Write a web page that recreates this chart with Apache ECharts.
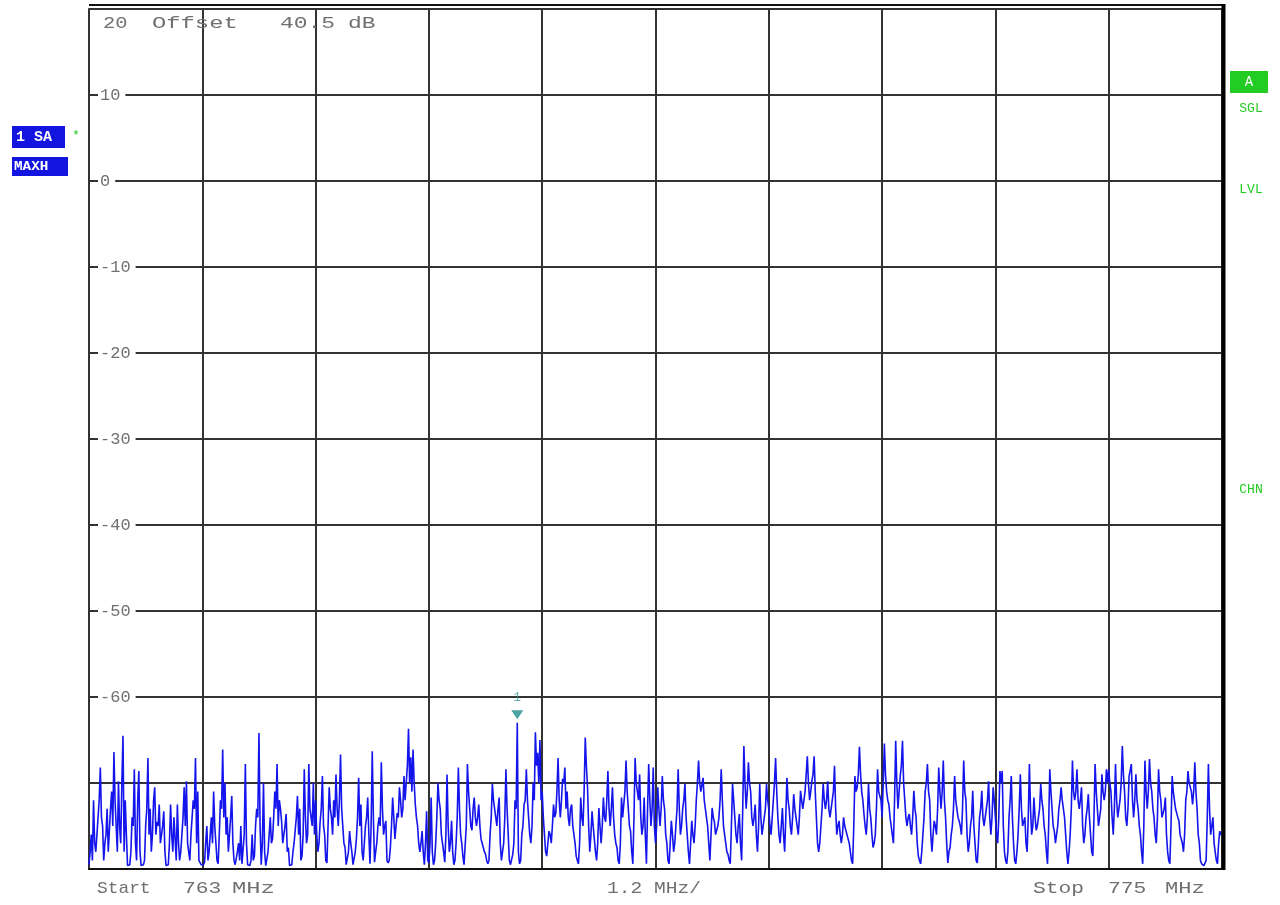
<!DOCTYPE html>
<html>
<head>
<meta charset="utf-8">
<script src="https://cdn.jsdelivr.net/npm/echarts@6/dist/echarts.min.js"></script>
<style>
html,body{margin:0;padding:0;background:#fff;}
#chart{width:1280px;height:905px;}
</style>
</head>
<body>
<div id="chart"></div>
<script>
// Sweep: 763 MHz to 775 MHz, 1001 points (sweep samples + in-between samples)
const startMHz = 763;
const stopMHz = 775;
const yLabelsShown = [10, 0, -10, -20, -30, -40, -50, -60];

// Max-hold trace levels (dB) at the main sweep samples
const levels = [
// div 1
-79.5,-76,-72,-78,-74,-68.2,-75,-77,-73,-75.5,-71,-66.4,-75,-69.8,-77,-64.5,-72,-79.6,-79.5,-74,
-68.4,-79,-68.6,-79.6,-79.5,-75,-67.1,-73,-76,-70.5,-74.5,-72.5,-77,-73.3,-79.6,-79.5,-72.5,-78,-74,-72.5,
-79,-76,-70.5,-69.8,-78,-76,-72,-67.1,-71,-79,
// div 2
-79.6,-79.2,-75,-78,-74,-71,-77,-79.4,-72,-66.1,-70,-74,-76,-71.5,-79,-79.5,-77,-75,-79.3,-67.8,
-79.5,-79.6,-76,-78.5,-73,-64.2,-79.5,-70,-79.6,-78,-74,-76.5,-71,-67.8,-72,-74.5,-76,-73.6,-77.5,-79.6,
-78,-75.5,-71.5,-73,-78.5,-68.4,-77,-67.8,-74,-70,
// div 3
-72,-78,-74.5,-69.2,-76,-79.3,-70.5,-74,-72,-69,-75,-66.7,-75,-77.5,-79.4,-75.6,-78,-79.5,-76.5,-69.4,
-72.5,-79,-75,-71.7,-79.4,-66.3,-79.2,-77,-74,-67.6,-76,-74.4,-79.3,-77.5,-71.7,-76.5,-73.5,-70.5,-74,-69.2,
-70,-63.7,-67,-66.1,-72.5,-75,-78,-75.6,-79.5,-73.3,
// div 4
-79.3,-71.7,-79.5,-77,-70,-73,-76,-79.2,-69,-78,-74.4,-79.5,-77,-68.2,-76,-78.5,-79.5,-67.8,-73,-75.5,
-71.7,-75,-72.5,-76.5,-77,-78.3,-79.4,-76,-70.1,-72,-75,-71.7,-79,-77,-68.4,-76,-79.5,-78.3,-72,-63,
-79.4,-76,-72.5,-68.4,-74,-77,-70,-64.1,-66.5,-65,
// div 5
-71,-76,-78.5,-75.6,-77,-72.5,-73.5,-67.1,-74,-69.5,-68.2,-71,-75,-72.5,-76,-78.5,-79.4,-71.7,-75,-64.7,
-70.5,-78,-73.3,-76.5,-79,-72.9,-77,-71.7,-74.5,-68.6,-75,-70.5,-76,-77.5,-79.4,-71.7,-74,-67.4,-73,-75.6,
-79.4,-67.1,-69.8,-69,-76,-71.7,-79.4,-67.8,-75,-68.2,
// div 6
-77,-70.5,-75,-69.2,-73,-77,-79.4,-74.4,-78,-75,-68.4,-76,-73,-70.1,-76,-79.4,-74.4,-77,-72,-67.4,
-71,-69.4,-73,-75,-79,-72.9,-74.5,-76,-74,-68.4,-75,-77,-78.3,-79.4,-70.1,-74,-77,-73.6,-79,-65.7,
-73,-67.6,-71,-75,-72.5,-78,-70.1,-76,-74,-70.1,
// div 7
-73,-76,-72,-67.1,-74,-77,-72.9,-78,-69.4,-73,-76,-71.3,-74,-76,-70.9,-73,-71,-66.9,-72,-69.8,
-66.9,-74,-78,-75,-70.1,-73,-69.8,-74,-72,-68,-76,-74.4,-77,-74,-75,-76,-78,-79.4,-69.2,-70.5,
-65.8,-71,-73.6,-76,-70.1,-74,-77.5,-76,-68.4,-71,
// div 8
-74,-65.4,-71,-72.5,-75,-77,-65.1,-73,-69.2,-65.1,-72,-75,-73.6,-76,-70.9,-74,-78.5,-79.4,-76,-71,
-67.8,-72,-78,-74.4,-76,-68.2,-73,-67.4,-74,-79.3,-77.5,-75,-69.2,-73,-74.4,-76,-67.4,-72,-78,-75,
-70.9,-77,-79.3,-74,-70.9,-75,-73,-69.8,-76,-70.5,
// div 9
-74,-77,-68.6,-68.6,-78,-79.4,-74,-69.2,-77,-79.4,-76,-69,-75,-74,-78,-67.8,-76,-71.7,-75.5,-74,
-70.1,-73,-76,-79.4,-68.4,-73,-75.6,-77,-73,-70.5,-72,-74,-79.4,-76,-67.4,-72,-68.4,-73,-70.5,-77,
-74,-71.3,-76,-78.5,-67.8,-73,-75,-69,-72,-68.4,
// div 10
-68.4,-71,-76,-67.8,-74,-72,-65.7,-71,-75,-69.2,-67.8,-74,-69,-73,-76,-79.4,-67.4,-73,-67.2,-71,
-74,-77,-68.4,-72,-74,-71.7,-78,-79.4,-69.2,-72,-73,-74.4,-76,-78,-72,-68.6,-70,-72.5,-67.6,-73,
-77,-79.4,-79.6,-79,-67.8,-76,-74,-78,-79.4,-75.6,-76
];

// Levels (dB) of the samples lying between consecutive main samples
const midLevels = [
// div 1
-78,-79,-77,-76,-72,-74,-79,-76,-78,-73, -75,-72,-78,-75,-70,-78,-76,-79.6,-78,-75,
-77,-72,-78,-79.5,-79,-73,-76,-78,-72,-76, -75,-77,-75,-78,-79.6,-77,-76,-74,-79,-77,
-78,-74,-75,-77,-79,-74,-73,-77,-79,-79.5,
// div 2
-79.5,-77,-79,-76,-77,-75,-79,-76,-73,-74, -76,-78,-74,-77,-79.5,-78,-79,-79.4,-76,-77,
-79.6,-79,-79,-75,-74,-75,-77,-78,-79.5,-76, -77,-74,-73,-75,-73,-77,-75,-78,-79.6,-79.5,
-77,-74,-76,-79,-76,-74,-76,-73,-75,-76,
// div 3
-76,-77,-73,-75,-79,-75,-73,-76,-74,-73, -72,-73,-77,-79.5,-78,-77,-79.5,-78,-74,-75,
-78,-77,-74,-76,-75,-74,-78,-75,-75,-73, -75,-79,-79,-75,-74,-75,-74,-72,-73,-72,
-68,-70,-71,-70,-74,-77,-77,-78,-77,-79,
// div 4
-77,-78,-79,-74,-72,-76,-78,-76,-75,-77, -78,-79,-74,-73,-77,-79.5,-75,-71,-75,-73,
-74,-74,-75,-77,-78,-79,-79,-74,-72,-74, -73,-77,-79,-74,-73,-79,-79.5,-77,-73,-78,
-79,-75,-72,-72,-76,-75,-72,-68,-70,-72,
// div 5
-74,-78,-77,-76,-75,-74,-71,-72,-72,-70, -73,-74,-73,-75,-77,-79,-77,-74,-71,-68,
-75,-76,-75,-78,-77,-75,-75,-74,-72,-73, -73,-74,-77,-79,-77,-74,-71,-71,-75,-78,
-74,-70,-72,-74,-75,-76,-73,-72,-73,-75,
// div 6
-75,-73,-73,-72,-76,-79,-77,-76,-77,-73, -73,-75,-72,-74,-78,-77,-76,-75,-70,-70,
-71,-72,-74,-77,-76,-74,-76,-75,-72,-72, -76,-78,-79,-75,-72,-76,-75,-77,-73,-70,
-71,-70,-74,-74,-76,-75,-74,-76,-73,-72,
// div 7
-75,-74,-70,-71,-76,-75,-76,-74,-72,-75, -74,-73,-75,-74,-72,-72,-69,-70,-71,-69,
-71,-77,-77,-73,-72,-72,-73,-73,-71,-73, -75,-76,-76,-75,-76,-77,-79,-75,-71,-69,
-69,-72,-75,-74,-73,-76,-77,-73,-71,-72,
// div 8
-70,-69,-72,-74,-76,-72,-70,-71,-68,-70, -74,-74,-75,-74,-73,-77,-79,-78,-74,-70,
-71,-76,-76,-75,-73,-71,-71,-72,-77,-78, -76,-73,-72,-74,-75,-73,-71,-76,-77,-74,
-75,-79,-77,-73,-74,-74,-72,-74,-74,-72,
// div 9
-76,-74,-70,-75,-79,-78,-72,-74,-79,-78, -73,-73,-75,-77,-74,-73,-75,-74,-75,-73,
-72,-75,-78,-75,-71,-75,-77,-75,-72,-72, -74,-78,-78,-73,-71,-71,-72,-72,-75,-76,
-73,-74,-78,-74,-71,-75,-73,-71,-71,-70,
// div 10
-70,-74,-73,-72,-73,-70,-69,-74,-73,-69, -72,-72,-72,-75,-78,-75,-71,-71,-70,-73,
-76,-74,-71,-74,-73,-76,-79,-75,-71,-73, -74,-76,-77,-76,-71,-70,-71,-71,-71,-76,
-79,-79.5,-79.5,-74,-73,-75,-77,-79,-77,-76
];

// Marker 1 (main sample index)
const markerSample = 189;
const markerName = '1';

// Merge main and in-between samples into one sweep
const trace = [];
for (let i = 0; i < levels.length; i++) {
  trace.push(levels[i]);
  if (i < levels.length - 1) trace.push(midLevels[i] !== undefined ? midLevels[i] : levels[i]);
}
const pointCount = trace.length;
const markerIndex = markerSample * 2;
const divPoints = (pointCount - 1) / 10;

const freqs = [];
for (let i = 0; i < pointCount; i++) {
  freqs.push((startMHz + i * (stopMHz - startMHz) / (pointCount - 1)).toFixed(3));
}

const mono = '"Liberation Mono", "DejaVu Sans Mono", monospace';
const grey = '#707070';
const green = '#22cc22';
const blueBox = '#1414e0';

function txt(text, x, y, opts) {
  opts = opts || {};
  return {
    type: 'text', x: x, y: y, z: 100,
    scaleX: opts.sx || 1,
    style: {
      text: text,
      fill: opts.fill || grey,
      font: (opts.weight || 'normal') + ' ' + (opts.size || 17) + 'px ' + mono,
      align: opts.align || 'left',
      verticalAlign: 'middle'
    }
  };
}

const chart = echarts.init(document.getElementById('chart'), null, {renderer: 'canvas'});

const option = {
  animation: false,
  backgroundColor: '#ffffff',
  grid: {left: 89, right: 58, top: 9, bottom: 36, containLabel: false},
  xAxis: {
    type: 'category',
    data: freqs,
    boundaryGap: false,
    axisLine: {show: true, onZero: false, lineStyle: {color: '#111', width: 2}},
    axisTick: {show: false},
    axisLabel: {show: false},
    splitLine: {
      show: true,
      interval: function (i) { return i % divPoints === 0; },
      lineStyle: {color: '#333', width: 2}
    }
  },
  yAxis: {
    type: 'value',
    min: -80, max: 20, interval: 10,
    axisLine: {show: true, lineStyle: {color: '#333', width: 2}},
    axisTick: {show: false},
    splitLine: {show: true, lineStyle: {color: '#333', width: 2}},
    axisLabel: {
      inside: true,
      margin: 9,
      formatter: function (v) { return yLabelsShown.indexOf(v) >= 0 ? '{l|' + v + '}' : ''; },
      rich: {
        l: {
          color: grey,
          fontFamily: mono,
          fontSize: 17,
          backgroundColor: '#ffffff',
          padding: [2, 5, 2, 2]
        }
      }
    }
  },
  series: [
    {
      type: 'line',
      data: trace,
      showSymbol: false,
      symbol: 'none',
      sampling: null,
      lineStyle: {color: '#1414ec', width: 1.6},
      z: 5
    },
    {
      type: 'scatter',
      data: [[markerIndex, trace[markerIndex]]],
      symbol: 'triangle',
      symbolRotate: 180,
      symbolSize: [12, 9],
      symbolOffset: [0, -8],
      itemStyle: {color: '#1e8c8c'},
      label: {
        show: true, position: 'top', distance: 6,
        formatter: markerName,
        color: '#3a9a9a', fontFamily: mono, fontSize: 13
      },
      z: 10
    }
  ],
  graphic: [
    // frame accents
    {type: 'line', z: 50, shape: {x1: 89, y1: 5, x2: 1225, y2: 5}, style: {stroke: '#111', lineWidth: 2}},
    {type: 'line', z: 50, shape: {x1: 1223.5, y1: 4, x2: 1223.5, y2: 870}, style: {stroke: '#000', lineWidth: 4}},
    // header text
    txt('20', 103, 23, {sx: 1.2}),
    txt('Offset', 152, 23, {sx: 1.4}),
    txt('40.5', 280, 23, {sx: 1.35}),
    txt('dB', 348, 23, {sx: 1.35}),
    // left status boxes
    {type: 'rect', z: 60, shape: {x: 12, y: 126, width: 53, height: 22}, style: {fill: blueBox}},
    txt('1 SA', 16, 137, {fill: '#ffffff', size: 15, weight: 'bold'}),
    txt('*', 72, 136, {fill: green, size: 13}),
    {type: 'rect', z: 60, shape: {x: 12, y: 157, width: 56, height: 19}, style: {fill: blueBox}},
    txt('MAXH', 14, 167, {fill: '#ffffff', size: 13, weight: 'bold', sx: 1.1}),
    // right status
    {type: 'rect', z: 60, shape: {x: 1230, y: 71, width: 38, height: 22}, style: {fill: green}},
    txt('A', 1249, 82, {fill: '#ffffff', size: 14, align: 'center'}),
    txt('SGL', 1251, 109, {fill: green, size: 13, align: 'center'}),
    txt('LVL', 1251, 190, {fill: green, size: 13, align: 'center'}),
    txt('CHN', 1251, 490, {fill: green, size: 13, align: 'center'}),
    // bottom annotations
    txt('Start', 97, 888, {sx: 1.05}),
    txt('763', 183, 888, {sx: 1.25}),
    txt('MHz', 232, 888, {sx: 1.4}),
    txt('1.2 MHz/', 654, 888, {align: 'center', sx: 1.15}),
    txt('Stop', 1033, 888, {sx: 1.25}),
    txt('775', 1108, 888, {sx: 1.25}),
    txt('MHz', 1165, 888, {sx: 1.3})
  ]
};

chart.setOption(option);
</script>
</body>
</html>
